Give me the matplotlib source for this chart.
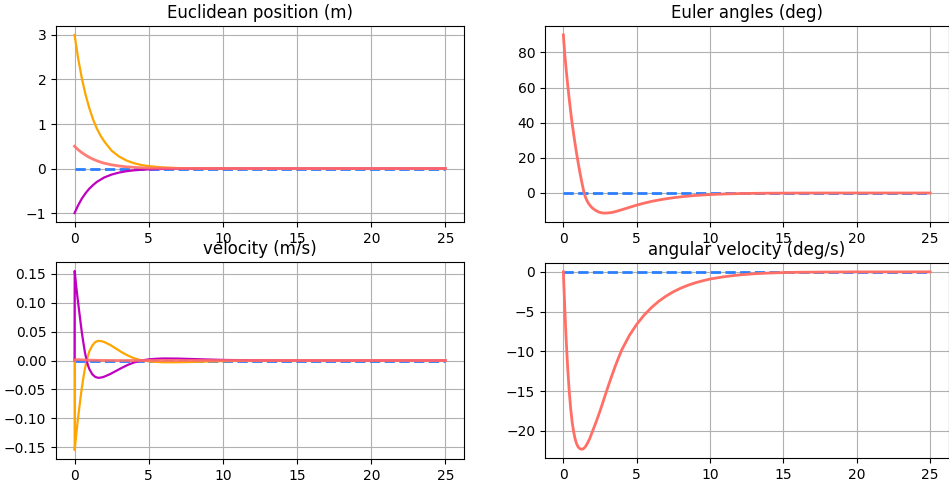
import matplotlib
matplotlib.use("Agg")
import matplotlib.pyplot as plt

# ---- time bases (s) ----
t_pos = [0, 0.25, 0.5, 0.75, 1.0, 1.25, 1.5, 1.75, 2.0, 2.5, 3.0, 3.5, 4.0, 4.5, 5.0, 6.0, 7.0,
         8.0, 9.0, 10.0, 12.0, 25.0]
t_vel = [0, 0.01, 0.1, 0.2, 0.3, 0.4, 0.5, 0.6, 0.7, 0.8, 0.9, 1.0, 1.2, 1.4, 1.6, 1.8, 2.0,
         2.4, 2.8, 3.2, 3.6, 4.0, 4.4, 5.0, 5.5, 6.0, 7.0, 8.0, 9.0, 10.0, 12.0, 15.0, 25.0]
t_ang = [0, 0.1, 0.2, 0.3, 0.4, 0.5, 0.6, 0.7, 0.8, 0.9, 1.0, 1.1, 1.2, 1.3, 1.4, 1.5, 1.6, 1.7,
         1.8, 1.9, 2.0, 2.2, 2.4, 2.6, 2.8, 3.0, 3.3, 3.6, 4.0, 4.5, 5.0, 5.5, 6.0, 6.5, 7.0,
         7.5, 8.0, 9.0, 10.0, 11.0, 12.0, 13.0, 14.0, 16.0, 18.0, 25.0]
t_rate = [0, 0.05, 0.1, 0.15, 0.2, 0.3, 0.4, 0.5, 0.6, 0.7, 0.8, 0.9, 1.0, 1.1, 1.2, 1.3, 1.4,
          1.5, 1.6, 1.7, 1.8, 2.0, 2.25, 2.5, 2.75, 3.0, 3.25, 3.5, 3.75, 4.0, 4.5, 5.0, 5.5,
          6.0, 6.5, 7.0, 7.5, 8.0, 8.5, 9.0, 9.5, 10.0, 11.0, 12.0, 13.0, 14.0, 15.0, 16.0,
          18.0, 20.0, 25.0]
t_ref = [0, 25]

# ---- Euclidean position (m) ----
pos_x = [3.0, 2.46, 2.01, 1.65, 1.35, 1.10, 0.90, 0.74, 0.61, 0.40, 0.27, 0.18, 0.12, 0.08,
         0.054, 0.024, 0.011, 0.005, 0.002, 0.001, 0.0, 0.0]
pos_y = [-1.0, -0.82, -0.67, -0.55, -0.45, -0.37, -0.30, -0.25, -0.20, -0.135, -0.09, -0.06,
         -0.04, -0.027, -0.018, -0.008, -0.004, -0.002, -0.001, 0.0, 0.0, 0.0]
pos_z = [0.5, 0.42, 0.355, 0.30, 0.25, 0.21, 0.175, 0.145, 0.12, 0.083, 0.057, 0.039, 0.027,
         0.018, 0.012, 0.006, 0.003, 0.0015, 0.0007, 0.0003, 0.0, 0.0]

# ---- velocity (m/s) ----
vel_x = [0.0, -0.155, -0.131, -0.108, -0.086, -0.065, -0.046, -0.029, -0.014, -0.002, 0.008,
         0.016, 0.026, 0.032, 0.034, 0.0335, 0.032, 0.027, 0.0205, 0.014, 0.0085, 0.004, 0.001,
         -0.0015, -0.0025, -0.003, -0.003, -0.0024, -0.0017, -0.0011, -0.0004, -0.0001, 0.0]
vel_y = [0.0, 0.155, 0.131, 0.109, 0.088, 0.067, 0.047, 0.030, 0.014, 0.002, -0.008, -0.015,
         -0.024, -0.0285, -0.030, -0.0295, -0.028, -0.0235, -0.018, -0.0125, -0.0075, -0.0035,
         -0.0005, 0.002, 0.003, 0.0035, 0.0033, 0.0025, 0.0017, 0.001, 0.0003, 0.0, 0.0]
vel_z = [0.0, 0.001, 0.0015, 0.0015, 0.0014, 0.0013, 0.0012, 0.001, 0.0009, 0.0008, 0.0007,
         0.0006, 0.0005, 0.0004, 0.0003, 0.0002, 0.0002, 0.0001, 0.0, 0.0, 0.0, 0.0, 0.0, 0.0,
         0.0, 0.0, 0.0, 0.0, 0.0, 0.0, 0.0, 0.0, 0.0]

# ---- Euler angles (deg) ----
euler = [90.0, 78.7, 69.7, 61.3, 53.5, 46.3, 39.6, 33.6, 28.0, 22.7, 17.7, 13.0, 8.6, 4.5, 0.6,
         -2.2, -4.2, -5.7, -6.9, -7.9, -8.7, -9.9, -10.8, -11.3, -11.45, -11.4, -11.1, -10.5,
         -9.5, -8.2, -6.9, -5.8, -4.8, -4.0, -3.3, -2.7, -2.2, -1.4, -0.9, -0.55, -0.33, -0.2,
         -0.12, -0.04, -0.01, 0.0]

# ---- angular velocity (deg/s) ----
ang_rate = [0.0, -2.3, -4.6, -6.8, -8.8, -12.2, -15.0, -17.2, -18.9, -20.1, -21.0, -21.6,
            -22.0, -22.2, -22.3, -22.3, -22.2, -22.0, -21.7, -21.35, -20.95, -20.0, -18.8,
            -17.5, -16.1, -14.7, -13.35, -12.05, -10.85, -9.75, -8.0, -6.6, -5.45, -4.5, -3.7,
            -3.05, -2.5, -2.05, -1.68, -1.37, -1.12, -0.9, -0.6, -0.38, -0.24, -0.15, -0.09,
            -0.05, -0.02, -0.005, 0.0]

ref_zero = [0.0, 0.0]

C_REF = "#2a7fff"
C_X = "#ffa500"
C_Y = "#c000c0"
C_Z = "#ff6f66"

fig = plt.figure(figsize=(9.49, 4.84), dpi=100)
W, H = 949.0, 484.0


def axes_px(left, top, right, bottom):
    return fig.add_axes([left / W, 1 - bottom / H, (right - left) / W, (bottom - top) / H])


ax_pos = axes_px(56, 26, 464, 222)
ax_eul = axes_px(545, 26, 948.5, 222)
ax_vel = axes_px(56, 262, 464, 459)
ax_rate = axes_px(545, 263, 948.5, 458)

# position
ax_pos.plot(t_ref, ref_zero, "--", color=C_REF, lw=2)
ax_pos.plot(t_pos, pos_x, color=C_X, lw=1.6)
ax_pos.plot(t_pos, pos_y, color=C_Y, lw=1.6)
ax_pos.plot(t_pos, pos_z, color=C_Z, lw=2, alpha=0.9)
ax_pos.set_title("Euclidean position (m)")

# Euler angles
ax_eul.plot(t_ref, ref_zero, "--", color=C_REF, lw=2)
ax_eul.plot(t_ang, euler, color=C_Z, lw=2)
ax_eul.set_title("Euler angles (deg)")

# velocity
ax_vel.plot(t_ref, ref_zero, "--", color=C_REF, lw=2)
ax_vel.plot(t_vel, vel_x, color=C_X, lw=1.6)
ax_vel.plot(t_vel, vel_y, color=C_Y, lw=1.6)
ax_vel.plot(t_vel, vel_z, color=C_Z, lw=2, alpha=0.9)
ax_vel.set_title("velocity (m/s)")

# angular velocity
ax_rate.plot(t_ref, ref_zero, "--", color=C_REF, lw=2)
ax_rate.plot(t_rate, ang_rate, color=C_Z, lw=2)
ax_rate.set_title("angular velocity (deg/s)")

for ax in (ax_pos, ax_eul, ax_vel, ax_rate):
    ax.grid(True)
    ax.set_xticks([0, 5, 10, 15, 20, 25])

fig.savefig("out.png", dpi=100)
